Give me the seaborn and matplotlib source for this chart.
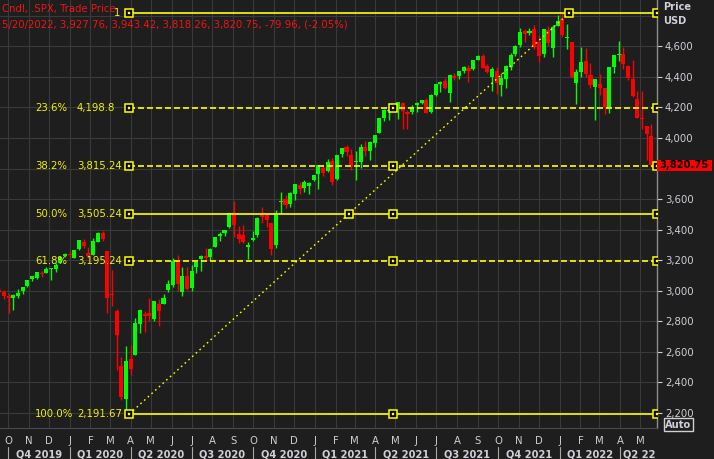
import matplotlib
matplotlib.use("Agg")
import matplotlib.pyplot as plt
import matplotlib.dates as mdates
import matplotlib.transforms as mtransforms
from matplotlib.patches import Rectangle
import numpy as np
import pandas as pd
import seaborn as sns

# ---------------- data (weekly candles) ----------------
week_start = pd.date_range("2019-09-16", periods=140, freq="7D")

wk_open = [3001, 2994, 2967, 2950, 2965, 2996, 3032, 3078, 3080, 3118, 3117, 3143, 3141, 3183, 3226, 3240,
           3217, 3271, 3321, 3248, 3236, 3319, 3379, 3257, 2974, 2864, 2509, 2290, 2555, 2578, 2782, 2845,
           2854, 2815, 2915, 2913, 3005, 3038, 3199, 2993, 3094, 3018, 3155, 3205, 3224, 3219, 3289, 3356,
           3380, 3418, 3509, 3370, 3363, 3285, 3334, 3367, 3500, 3494, 3441, 3296, 3583, 3600, 3566, 3634,
           3694, 3675, 3684, 3723,
           3764, 3803, 3781, 3851, 3732, 3892, 3939, 3886, 3842, 3844, 3943, 3916, 3969, 4034, 4130, 4179,
           4185, 4192, 4228, 4169, 4170, 4216, 4229, 4248, 4173, 4284, 4356, 4372, 4297, 4409, 4406, 4437,
           4461, 4450, 4514, 4535, 4474, 4402, 4442, 4348, 4385, 4463, 4553, 4611, 4701, 4689, 4712, 4628,
           4548, 4710, 4587, 4733,
           4778, 4655, 4632, 4357, 4431, 4505, 4412, 4332, 4354, 4327, 4188, 4462, 4541, 4547, 4474, 4385,
           4256, 4131, 4081, 4013]
wk_high = [3022, 3002, 2983, 2975, 3008, 3027, 3066, 3097, 3120, 3127, 3154, 3150, 3183, 3226, 3248, 3258,
           3268, 3330, 3337, 3286, 3347, 3385, 3393, 3259, 3136, 2882, 2563, 2637, 2642, 2818, 2880, 2868,
           2955, 2934, 2945, 2980, 3068, 3212, 3233, 3155, 3155, 3165, 3186, 3235, 3280, 3279, 3352, 3387,
           3399, 3509, 3588, 3426, 3429, 3321, 3393, 3482, 3550, 3502, 3441, 3529, 3645, 3628, 3645, 3700,
           3712, 3726, 3711, 3760,
           3826, 3823, 3861, 3870, 3887, 3937, 3951, 3928, 3915, 3960, 3983, 3978, 4020, 4130, 4191, 4195,
           4219, 4238, 4237, 4186, 4219, 4234, 4250, 4261, 4286, 4356, 4372, 4393, 4415, 4429, 4441, 4470,
           4480, 4510, 4545, 4549, 4486, 4466, 4465, 4429, 4475, 4559, 4608, 4718, 4714, 4718, 4743, 4672,
           4713, 4731, 4741, 4808,
           4819, 4749, 4632, 4453, 4595, 4590, 4490, 4385, 4416, 4327, 4465, 4546, 4637, 4594, 4475, 4513,
           4308, 4308, 4081, 4091]
wk_low = [2985, 2946, 2856, 2874, 2952, 2976, 3023, 3066, 3078, 3091, 3115, 3070, 3124, 3183, 3222, 3212,
          3214, 3263, 3281, 3214, 3234, 3316, 3328, 2855, 2901, 2479, 2281, 2192, 2447, 2578, 2725, 2728,
          2802, 2798, 2766, 2913, 2990, 3025, 2999, 2965, 3004, 3000, 3115, 3127, 3200, 3204, 3284, 3328,
          3355, 3410, 3349, 3310, 3314, 3209, 3324, 3354, 3440, 3415, 3234, 3279, 3511, 3543, 3549, 3594,
          3633, 3647, 3636, 3716,
          3663, 3749, 3777, 3694, 3725, 3874, 3885, 3789, 3723, 3806, 3885, 3853, 3940, 4034, 4114, 4118,
          4174, 4123, 4057, 4062, 4155, 4168, 4220, 4165, 4165, 4274, 4299, 4321, 4233, 4382, 4385, 4425,
          4367, 4448, 4513, 4456, 4428, 4306, 4288, 4278, 4329, 4448, 4537, 4595, 4630, 4672, 4585, 4495,
          4532, 4600, 4531, 4733,
          4662, 4582, 4395, 4223, 4398, 4401, 4327, 4115, 4279, 4157, 4161, 4425, 4506, 4450, 4382, 4267,
          4129, 4062, 3859, 3811]
wk_close = [2992, 2962, 2952, 2970, 2986, 3023, 3067, 3093, 3120, 3110, 3141, 3146, 3169, 3221, 3240, 3235,
            3265, 3330, 3295, 3226, 3328, 3380, 3338, 2954, 2972, 2711, 2305, 2541, 2489, 2790, 2875, 2837,
            2831, 2930, 2864, 2955, 3044, 3194, 3041, 3097, 3009, 3130, 3185, 3225, 3216, 3271, 3351, 3373,
            3397, 3508, 3427, 3341, 3319, 3298, 3348, 3477, 3484, 3465, 3270, 3510, 3585, 3558, 3638, 3699,
            3663, 3709, 3703, 3756,
            3825, 3768, 3841, 3714, 3887, 3934, 3907, 3811, 3842, 3943, 3913, 3975, 4020, 4129, 4185, 4180,
            4181, 4233, 4174, 4156, 4204, 4230, 4247, 4166, 4281, 4352, 4370, 4327, 4412, 4395, 4436, 4468,
            4442, 4509, 4535, 4459, 4433, 4455, 4357, 4391, 4471, 4545, 4605, 4697, 4683, 4698, 4595, 4538,
            4712, 4621, 4726, 4766,
            4677, 4663, 4398, 4432, 4501, 4419, 4349, 4385, 4329, 4204, 4463, 4543, 4546, 4488, 4393, 4272,
            4132, 4123, 4024, 3820.75]

fib_pct = ["0.0%", "23.6%", "38.2%", "50.0%", "61.8%", "100.0%"]
fib_val = [4818.81, 4198.8, 3815.24, 3505.24, 3195.24, 2191.67]
fib_txt = ["4,818.81", "4,198.8", "3,815.24", "3,505.24", "3,195.24", "2,191.67"]
fib_solid = [True, False, False, True, False, True]
fib_low_date = "2020-03-30"
fib_high_date = "2022-01-15"
top_label_visible = "1"   # only the last digit of the 0.0% label shows beside the header

price_ticks = [2200, 2400, 2600, 2800, 3000, 3200, 3400, 3600, 3800, 4000, 4200, 4400, 4600]
month_letters = ["O", "N", "D", "J", "F", "M", "A", "M", "J", "J", "A", "S", "O", "N", "D",
                 "J", "F", "M", "A", "M", "J", "J", "A", "S", "O", "N", "D", "J", "F", "M", "A", "M"]
quarter_names = ["Q4 2019", "Q1 2020", "Q2 2020", "Q3 2020", "Q4 2020", "Q1 2021",
                 "Q2 2021", "Q3 2021", "Q4 2021", "Q1 2022", "Q2 22"]

header1 = "Cndl, .SPX, Trade Price"
header2 = "5/20/2022, 3,927.76, 3,943.42, 3,818.26, 3,820.75, -79.96, (-2.05%)"
last_price = 3820.75
last_text = "3,820.75"

# ---------------- style ----------------
BG = "#1e1e1e"
GRID = "#3a3a3a"
GREEN = "#00ff00"
RED = "#ff0000"
YEL = "#ffff00"
YEL_T = "#f2f200"
AXTXT = "#cfcfd8"
HDR = "#f01414"

sns.set_theme(style="dark", rc={"axes.facecolor": BG, "figure.facecolor": BG})
plt.rcParams["font.family"] = ["DejaVu Sans"]
plt.rcParams["font.size"] = 7.3

W, H = 714, 459
AX_R, AX_B = 657, 428
fig = plt.figure(figsize=(W / 100, H / 100), dpi=100)
fig.patch.set_facecolor(BG)
ax = fig.add_axes([0, 1 - AX_B / H, AX_R / W, AX_B / H])
ax.set_facecolor(BG)

PX_PER_DAY = 0.6703
d0 = mdates.date2num(pd.Timestamp("2019-10-01"))
xmin = d0 - 8 / PX_PER_DAY
xmax = d0 + (AX_R - 8) / PX_PER_DAY
YMIN, YMAX = 2100.2, 4904.0

# ---------------- candles ----------------
df = pd.DataFrame({"date": week_start, "open": wk_open, "high": wk_high,
                   "low": wk_low, "close": wk_close})
xc = mdates.date2num(df["date"]) + 2
up = (df["close"] >= df["open"]).to_numpy()
cols = np.where(up, GREEN, RED)
ax.vlines(xc, df["low"], df["high"], colors=cols, lw=1.0, zorder=2)
body_h = np.maximum((df["close"] - df["open"]).abs().to_numpy(), 6)
body_b = np.minimum(df["open"], df["close"]).to_numpy()
ax.bar(xc, body_h, bottom=body_b, width=6.0, color=cols, linewidth=0, zorder=3)

# ---------------- fibonacci ----------------
xs = mdates.date2num(pd.Timestamp(fib_low_date))
xh = mdates.date2num(pd.Timestamp(fib_high_date))
x_mid = (xs + xmax) / 2
blend_y = mtransforms.blended_transform_factory(ax.transAxes, ax.transData)


def anchor(x, y):
    ax.plot([x], [y], marker="s", ms=5.2, mfc="#000000", mec=YEL, mew=1.1, zorder=7, ls="none")
    ax.plot([x], [y], marker="s", ms=1.8, mfc=YEL, mec=YEL, mew=0.3, zorder=8, ls="none")


for i, (pct, val, txt, solid) in enumerate(zip(fib_pct, fib_val, fib_txt, fib_solid)):
    ls = "-" if solid else (0, (3.6, 1.8))
    ax.plot([xs, xmax], [val, val], color=YEL, lw=1.2, ls=ls, zorder=5)
    anchor(xs, val)
    anchor(xmax, val)
    if i == 0:
        anchor(xh, val)
        ax.text(120.5 / AX_R, val, top_label_visible, transform=blend_y, color=YEL_T,
                va="center", ha="right", zorder=6)
        continue
    anchor(x_mid, val)
    ax.text(35 / AX_R, val, pct, transform=blend_y, color=YEL_T, va="center", ha="left", zorder=6)
    ax.text(77 / AX_R, val, txt, transform=blend_y, color=YEL_T, va="center", ha="left", zorder=6)

ax.plot([xs, xh], [fib_val[-1], fib_val[0]], color=YEL, lw=1.0, ls=(0, (1.2, 2.4)), zorder=5)
anchor((xs + xh) / 2, (fib_val[-1] + fib_val[0]) / 2)

# ---------------- axes ----------------
months = pd.date_range("2019-10-01", "2022-05-01", freq="MS")
ax.set_xticks(mdates.date2num(months))
ax.set_xticklabels(month_letters)
ax.tick_params(axis="x", length=2.2, width=0.8, color=AXTXT, labelcolor=AXTXT, pad=0.5, labelsize=7.3)
ax.spines["bottom"].set_position(("outward", 2.9))
ax.spines["bottom"].set_visible(False)
ax.spines["top"].set_visible(False)
ax.spines["left"].set_visible(False)
ax.spines["right"].set_color("#8c8c8c")
ax.spines["right"].set_linewidth(1.0)

ax.yaxis.tick_right()
ax.set_yticks(price_ticks)
# the 3,800 label sits behind the last-price tag
ax.set_yticklabels(["" if v == 3800 else f"{v:,}" for v in price_ticks])
ax.tick_params(axis="y", length=3.6, width=0.8, color=AXTXT, labelcolor=AXTXT, pad=2, labelsize=7.3)
ax.grid(True, color=GRID, lw=0.8, ls="-", zorder=0)
ax.axhline(4800, color=GRID, lw=0.8, zorder=0)
ax.set_axisbelow(True)

# quarter row
bt = mtransforms.blended_transform_factory(ax.transData, ax.transAxes)
qstarts = pd.date_range("2019-10-01", "2022-04-01", freq="QS")
qy = (AX_B - 457.5) / AX_B
for i, (qs, name) in enumerate(zip(qstarts, quarter_names)):
    x0 = mdates.date2num(qs)
    ax.plot([x0, x0], [(AX_B - 447) / AX_B, (AX_B - 460) / AX_B], transform=bt,
            color="#a8a8a8", lw=0.8, clip_on=False)
    if i < len(qstarts) - 1:
        x1 = mdates.date2num(qstarts[i + 1])
        ax.text((x0 + x1) / 2, qy, name, ha="center", va="baseline", weight="bold",
                color=AXTXT, transform=bt, clip_on=False, fontsize=7.1)
    else:
        ax.text(x0 + 3 / PX_PER_DAY, qy, name, ha="left", va="baseline", weight="bold",
                color=AXTXT, transform=bt, clip_on=False, fontsize=7.1)

ax.set_xlim(xmin, xmax)
ax.set_ylim(YMIN, YMAX)

# bottom border of plot area
fig.add_artist(plt.Line2D([0, AX_R / W], [1 - AX_B / H] * 2, color="#4a4a4a", lw=0.8))

# ---------------- header & labels ----------------
fig.text(2 / W, 1 - 11.7 / H, header1, color=HDR, va="baseline", ha="left", fontsize=7.3)
fig.text(2 / W, 1 - 27.7 / H, header2, color=HDR, va="baseline", ha="left", fontsize=7.3)

fig.text(663 / W, 1 - 9.5 / H, "Price", color=AXTXT, weight="bold", va="baseline", ha="left", fontsize=7.1)
fig.text(663 / W, 1 - 24.5 / H, "USD", color=AXTXT, weight="bold", va="baseline", ha="left", fontsize=7.1)

# last price tag
y_last_px = (YMAX - last_price) / (YMAX - YMIN) * AX_B
fig.add_artist(Rectangle((AX_R / W, 1 - (y_last_px + 5.5) / H), 55 / W, 11 / H,
                         transform=fig.transFigure, fc="#ff0000", ec="none"))
fig.text(659 / W, 1 - y_last_px / H, last_text, color="#000000", weight="bold",
         va="center", ha="left", fontsize=7.2)

fig.text(678.5 / W, 1 - 424.5 / H, "Auto", color=AXTXT, weight="bold", va="center", ha="center",
         fontsize=7.1, bbox=dict(boxstyle="square,pad=0.12", fc=BG, ec="#d0d0d0", lw=1))

fig.savefig("out.png", dpi=100, facecolor=BG)
